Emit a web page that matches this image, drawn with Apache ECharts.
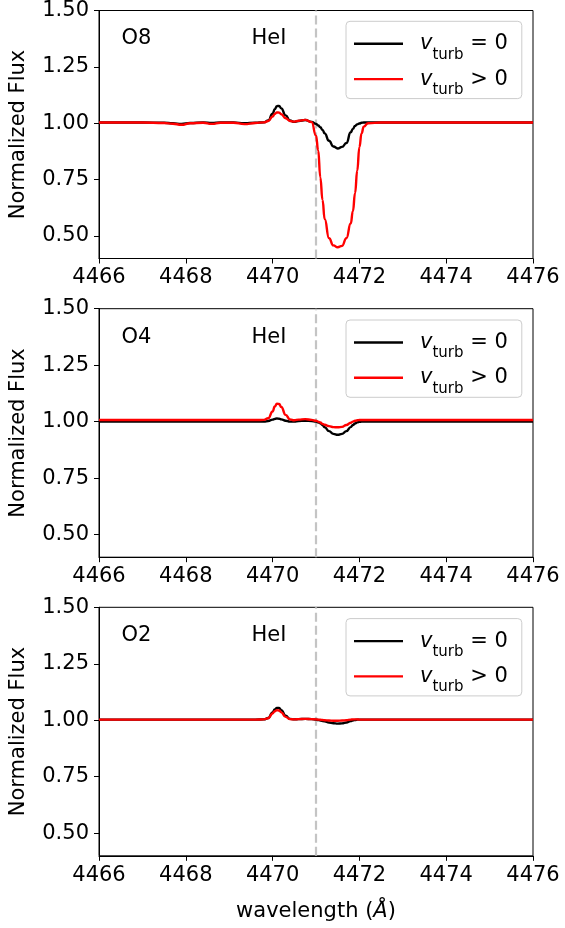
<!DOCTYPE html>
<html>
<head>
<meta charset="utf-8">
<script src="https://cdn.jsdelivr.net/npm/echarts@6/dist/echarts.min.js"></script>
<style>
html,body{margin:0;padding:0;background:#fff;}
#chart{width:565px;height:928px;}
</style>
</head>
<body>
<div id="chart"></div>
<script>
// ---- data ----
const wavelength = [4466, 4467, 4467.5, 4467.7, 4467.9, 4468.1, 4468.4, 4468.6, 4468.8, 4469.1, 4469.35, 4469.6, 4469.8, 4469.9, 4470.0, 4470.05, 4470.1, 4470.15, 4470.2, 4470.3, 4470.4, 4470.5, 4470.6, 4470.75, 4470.9, 4471.0, 4471.05, 4471.1, 4471.15, 4471.2, 4471.3, 4471.4, 4471.5, 4471.6, 4471.7, 4471.8, 4471.85, 4471.9, 4471.95, 4472.0, 4472.05, 4472.1, 4472.2, 4472.5, 4473, 4474, 4475, 4476];

const o8_vturb0 = [1.003, 1.003, 1.002, 1.000, 0.997, 1.001, 1.003, 1.001, 1.003, 1.003, 1.000, 1.002, 1.004, 1.012, 1.042, 1.062, 1.076, 1.077, 1.066, 1.035, 1.012, 1.006, 1.010, 1.014, 1.006, 0.997, 0.990, 0.982, 0.970, 0.955, 0.922, 0.897, 0.888, 0.895, 0.912, 0.960, 0.975, 0.988, 0.995, 0.999, 1.002, 1.003, 1.003, 1.003, 1.003, 1.003, 1.003, 1.003];
const o8_vturbPos = [1.003, 1.003, 1.001, 0.998, 0.993, 1.000, 1.002, 0.997, 1.002, 1.002, 0.996, 1.001, 1.004, 1.010, 1.030, 1.041, 1.048, 1.047, 1.040, 1.022, 1.010, 1.007, 1.011, 1.015, 1.005, 0.945, 0.880, 0.760, 0.660, 0.575, 0.490, 0.458, 0.450, 0.456, 0.490, 0.555, 0.610, 0.690, 0.790, 0.894, 0.955, 0.985, 1.000, 1.003, 1.003, 1.003, 1.003, 1.003];

const o4_vturb0 = [1.000, 1.000, 1.000, 1.000, 1.000, 1.000, 1.000, 1.000, 1.000, 1.000, 1.000, 1.000, 1.000, 1.003, 1.009, 1.012, 1.014, 1.013, 1.010, 1.004, 1.000, 1.001, 1.003, 1.004, 1.003, 1.000, 0.997, 0.993, 0.985, 0.975, 0.958, 0.946, 0.942, 0.946, 0.958, 0.976, 0.985, 0.992, 0.997, 0.999, 1.000, 1.000, 1.000, 1.000, 1.000, 1.000, 1.000, 1.000];
const o4_vturbPos = [1.007, 1.007, 1.007, 1.007, 1.007, 1.007, 1.007, 1.007, 1.007, 1.007, 1.007, 1.007, 1.008, 1.015, 1.045, 1.067, 1.080, 1.078, 1.065, 1.030, 1.010, 1.006, 1.009, 1.011, 1.008, 1.004, 1.000, 0.996, 0.990, 0.986, 0.980, 0.976, 0.975, 0.977, 0.985, 0.995, 1.000, 1.004, 1.006, 1.007, 1.007, 1.007, 1.007, 1.007, 1.007, 1.007, 1.007, 1.007];

const o2_vturb0 = [1.003, 1.003, 1.003, 1.003, 1.003, 1.003, 1.003, 1.003, 1.003, 1.003, 1.003, 1.003, 1.004, 1.010, 1.035, 1.048, 1.055, 1.054, 1.045, 1.020, 1.006, 1.004, 1.005, 1.006, 1.005, 1.003, 1.001, 0.999, 0.997, 0.995, 0.990, 0.987, 0.985, 0.986, 0.990, 0.996, 0.999, 1.001, 1.003, 1.003, 1.003, 1.003, 1.003, 1.003, 1.003, 1.003, 1.003, 1.003];
const o2_vturbPos = [1.003, 1.003, 1.003, 1.003, 1.003, 1.003, 1.003, 1.003, 1.003, 1.003, 1.003, 1.003, 1.004, 1.009, 1.030, 1.040, 1.045, 1.043, 1.035, 1.015, 1.005, 1.004, 1.005, 1.006, 1.005, 1.004, 1.003, 1.002, 1.001, 1.000, 0.999, 0.998, 0.998, 0.999, 1.000, 1.003, 1.004, 1.004, 1.004, 1.003, 1.003, 1.003, 1.003, 1.003, 1.003, 1.003, 1.003, 1.003];

const panelLabels = ['O8', 'O4', 'O2'];
const lineLabel = 'HeI';
const heLineWavelength = 4471.0;
const xTickValues = [4466, 4468, 4470, 4472, 4474, 4476];
const yTickValues = [0.50, 0.75, 1.00, 1.25, 1.50];
const seriesNames = ['vturb = 0', 'vturb > 0'];
const seriesColors = ['#000000', '#ff0000'];
const panelData = [[o8_vturb0, o8_vturbPos], [o4_vturb0, o4_vturbPos], [o2_vturb0, o2_vturbPos]];

// ---- layout ----
const FONT = 'DejaVu Sans';
const FS = 21;
const gridTops = [10, 308.7, 607.3];
const gridLeft = 99, gridWidth = 434, gridHeight = 248.5;

const grids = [], xAxes = [], yAxes = [], series = [], legends = [], graphics = [];

gridTops.forEach((top, p) => {
  grids.push({left: gridLeft, top: top, width: gridWidth, height: gridHeight,
    show: true, borderColor: '#000', borderWidth: 1, backgroundColor: 'transparent'});
  xAxes.push({
    gridIndex: p, type: 'value', min: xTickValues[0], max: xTickValues[xTickValues.length - 1], interval: 2,
    axisLine: {show: true, lineStyle: {color: '#000', width: 1}},
    axisTick: {show: true, length: 5, lineStyle: {color: '#000', width: 1}},
    axisLabel: {show: true, color: '#000', fontFamily: FONT, fontSize: FS, margin: 9, showMinLabel: true, showMaxLabel: true,
      formatter: v => String(Math.round(v))},
    splitLine: {show: false},
    name: p === 2 ? '{t|wavelength (}{i|Å}{t|)}' : '',
    nameLocation: 'middle', nameGap: 45,
    nameTextStyle: {rich: {
      t: {fontFamily: FONT, fontSize: FS, color: '#000'},
      i: {fontFamily: FONT, fontSize: FS, fontStyle: 'italic', color: '#000'}
    }}
  });
  yAxes.push({
    gridIndex: p, type: 'value', min: 0.4, max: 1.5,
    axisLine: {show: true, lineStyle: {color: '#000', width: 1}},
    axisTick: {show: true, length: 5, lineStyle: {color: '#000', width: 1}, customValues: yTickValues},
    axisLabel: {show: true, color: '#000', fontFamily: FONT, fontSize: FS, margin: 10,
      customValues: yTickValues, formatter: v => v.toFixed(2)},
    splitLine: {show: false},
    name: 'Normalized Flux', nameLocation: 'middle', nameGap: 70, nameRotate: 90,
    nameTextStyle: {fontFamily: FONT, fontSize: FS, color: '#000'}
  });
  panelData[p].forEach((arr, k) => {
    const s = {
      name: seriesNames[k], type: 'line', xAxisIndex: p, yAxisIndex: p,
      data: wavelength.map((w, i) => [w, arr[i]]),
      showSymbol: false, symbol: 'none', smooth: 0.5, smoothMonotone: 'x',
      lineStyle: {color: seriesColors[k], width: 2.4}, itemStyle: {color: seriesColors[k]},
      z: 3 + k, animation: false, silent: true
    };
    if (k === 0) {
      s.markLine = {silent: true, symbol: 'none', animation: false, label: {show: false},
        lineStyle: {color: '#c4c4c4', type: [9, 4], width: 2.2},
        data: [{xAxis: heLineWavelength}], z: 1};
    }
    series.push(s);
  });
  legends.push({
    orient: 'vertical', left: 346, top: top + 11.3,
    data: seriesNames.slice(),
    icon: 'rect',
    itemWidth: 49, itemHeight: 2.4, itemGap: 6.3,
    padding: [12, 14, 1, 8],
    backgroundColor: 'rgba(255,255,255,0.8)', borderColor: '#cccccc', borderWidth: 1, borderRadius: 4,
    selectedMode: false,
    textStyle: {padding: [0, 0, 0, 12], rich: {
      v: {fontFamily: FONT, fontSize: FS, fontStyle: 'italic', color: '#000', lineHeight: 27, verticalAlign: 'middle'},
      s: {fontFamily: FONT, fontSize: 15, color: '#000', lineHeight: 15, verticalAlign: 'bottom', padding: [0, 0, -5, 0]},
      n: {fontFamily: FONT, fontSize: FS, color: '#000', lineHeight: 27, verticalAlign: 'middle'}
    }},
    formatter: name => name === seriesNames[0] ? '{v|v}{s|turb}{n| = 0}' : '{v|v}{s|turb}{n| > 0}'
  });
  graphics.push({type: 'text', left: 121.5, top: top + 18, style: {text: panelLabels[p], fontFamily: FONT, fontSize: FS, fill: '#000'}});
  graphics.push({type: 'text', left: 251.5, top: top + 18, style: {text: lineLabel, fontFamily: FONT, fontSize: FS, fill: '#000'}});
});

const chart = echarts.init(document.getElementById('chart'), null, {renderer: 'canvas'});
chart.setOption({
  animation: false,
  backgroundColor: '#fff',
  grid: grids, xAxis: xAxes, yAxis: yAxes, series: series, legend: legends, graphic: graphics
});
</script>
</body>
</html>
